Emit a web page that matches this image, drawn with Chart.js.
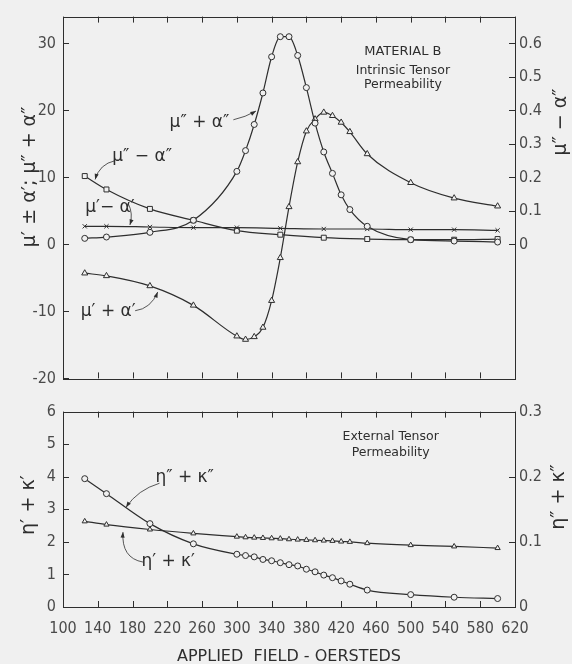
<!DOCTYPE html>
<html>
<head>
<meta charset="utf-8">
<script src="https://cdn.jsdelivr.net/npm/chart.js@4.4.0/dist/chart.umd.min.js"></script>
<style>
  html, body { margin: 0; padding: 0; background: #f0f0f0; }
  #wrap { position: relative; width: 572px; height: 664px; }
  #topChart { position: absolute; left: 0; top: 0; }
  #bottomChart { position: absolute; left: 0; top: 395px; }
</style>
</head>
<body>
<div id="wrap">
  <canvas id="topChart" width="572" height="395"></canvas>
  <canvas id="bottomChart" width="572" height="269"></canvas>
</div>
<script>
// applied field (oersteds)
const fieldFine = [125, 150, 200, 250, 300, 310, 320, 330, 340, 350, 360, 370, 380, 390, 400, 410, 420, 430, 450, 500, 550, 600];
const fieldCoarse = [125, 150, 200, 250, 300, 350, 400, 450, 500, 550, 600];

// intrinsic tensor permeability
const muImPlus = [0.9, 1.1, 1.8, 3.6, 10.9, 14.0, 17.9, 22.6, 28.0, 31.0, 31.0, 28.2, 23.4, 18.1, 13.8, 10.6, 7.4, 5.2, 2.7, 0.7, 0.5, 0.35];
const muRePlus = [-4.3, -4.7, -6.2, -9.1, -13.7, -14.2, -13.8, -12.4, -8.4, -2.0, 5.6, 12.3, 16.9, 18.7, 19.7, 19.2, 18.2, 16.8, 13.5, 9.2, 6.9, 5.7];
const muReMinus = [2.7, 2.7, 2.6, 2.5, 2.5, 2.4, 2.3, 2.3, 2.2, 2.2, 2.1];
const muImMinus = [0.204, 0.164, 0.106, 0.072, 0.041, 0.029, 0.020, 0.016, 0.014, 0.014, 0.016];

// external tensor permeability
const etaRe = [2.63, 2.53, 2.38, 2.26, 2.16, 2.14, 2.13, 2.12, 2.11, 2.10, 2.08, 2.07, 2.06, 2.05, 2.04, 2.03, 2.01, 2.00, 1.96, 1.90, 1.86, 1.81];
const etaIm = [0.197, 0.174, 0.128, 0.097, 0.081, 0.079, 0.077, 0.073, 0.071, 0.068, 0.065, 0.063, 0.058, 0.054, 0.049, 0.045, 0.040, 0.035, 0.026, 0.019, 0.015, 0.013];

// tick labels
const xTicks = [100, 140, 180, 220, 260, 300, 340, 380, 420, 460, 500, 540, 580, 620];
const topLeftTicks = [-20, -10, 0, 10, 20, 30];
const topRightTicks = [0, 0.1, 0.2, 0.3, 0.4, 0.5, 0.6];
const bottomLeftTicks = [0, 1, 2, 3, 4, 5, 6];
const bottomRightTicks = [0, 0.1, 0.2, 0.3];

const INK = '#2e2e2e';
const PAPER = '#f0f0f0';
const tickFont = { family: "'Liberation Sans Narrow', 'DejaVu Sans Condensed', sans-serif", size: 16 };

const series = (xs, ys, shape, axis, radius) => ({
    data: xs.map((x, i) => ({ x: x, y: ys[i] })),
    yAxisID: axis,
    borderColor: INK,
    borderWidth: 1.2,
    pointStyle: shape,
    pointRadius: radius,
    pointBorderWidth: 1,
    pointBorderColor: INK,
    pointBackgroundColor: PAPER,
    cubicInterpolationMode: 'monotone',
    fill: false
});

const fixTicks = list => s => { s.ticks = list.map(v => ({ value: v })); };

// frame, inward ticks, in-plot labels and axis titles
const decor = {
    id: 'decor',
    afterDraw(chart, args, o) {
        const { ctx, chartArea: a, scales } = chart;
        const line = (x1, y1, x2, y2) => { ctx.beginPath(); ctx.moveTo(x1, y1); ctx.lineTo(x2, y2); ctx.stroke(); };
        ctx.save();
        ctx.strokeStyle = INK;
        ctx.lineWidth = 1;
        ctx.strokeRect(Math.round(a.left) + 0.5, Math.round(a.top) + 0.5, Math.round(a.width), Math.round(a.height));

        xTicks.forEach(v => {
            const px = Math.round(scales.x.getPixelForValue(v)) + 0.5;
            line(px, a.bottom, px, a.bottom - 6);
            line(px, a.top, px, a.top + 6);
        });
        o.leftTicks.forEach(v => {
            const py = Math.round(scales.yL.getPixelForValue(v)) + 0.5;
            line(a.left, py, a.left + 6, py);
        });
        o.rightTicks.forEach(v => {
            const py = Math.round(scales.yR.getPixelForValue(v)) + 0.5;
            line(a.right, py, a.right - 6, py);
        });

        ctx.fillStyle = INK;
        ctx.textAlign = 'center';
        ctx.textBaseline = 'middle';
        o.texts.forEach(t => {
            ctx.font = t.font || "17px 'DejaVu Sans'";
            ctx.fillText(t.t, scales.x.getPixelForValue(t.x), scales.yL.getPixelForValue(t.y));
        });

        ctx.lineWidth = 0.8;
        o.leaders.forEach(l => {
            const p = xy => [scales.x.getPixelForValue(xy[0]), scales.yL.getPixelForValue(xy[1])];
            const f = p(l.from), c = p(l.ctrl), e = p(l.to);
            ctx.beginPath();
            ctx.moveTo(f[0], f[1]);
            ctx.quadraticCurveTo(c[0], c[1], e[0], e[1]);
            ctx.stroke();
            const ang = Math.atan2(e[1] - c[1], e[0] - c[0]);
            ctx.beginPath();
            ctx.moveTo(e[0], e[1]);
            ctx.lineTo(e[0] - 6 * Math.cos(ang - 0.35), e[1] - 6 * Math.sin(ang - 0.35));
            ctx.lineTo(e[0] - 6 * Math.cos(ang + 0.35), e[1] - 6 * Math.sin(ang + 0.35));
            ctx.closePath();
            ctx.fill();
        });

        o.titles.forEach(t => {
            ctx.save();
            ctx.translate(t.cx, t.cy);
            if (t.rot) ctx.rotate(-Math.PI / 2);
            ctx.font = t.font || "19px 'DejaVu Sans'";
            ctx.fillText(t.t, 0, 0);
            ctx.restore();
        });
        ctx.restore();
    }
};

const baseScales = (xHeight, showX, leftTicks, leftMin, leftMax, rightTicks, rightMin, rightMax, rightFmt) => ({
    x: {
        type: 'linear', min: 100, max: 620,
        grid: { display: false }, border: { display: false },
        afterBuildTicks: fixTicks(xTicks),
        ticks: { display: showX, font: tickFont, color: '#4a4a4a', padding: 4, maxRotation: 0, autoSkip: false },
        afterFit: s => { s.height = xHeight; }
    },
    yL: {
        position: 'left', min: leftMin, max: leftMax,
        grid: { display: false, drawTicks: false }, border: { display: false },
        afterBuildTicks: fixTicks(leftTicks),
        ticks: { font: tickFont, color: '#4a4a4a', padding: 7 },
        afterFit: s => { s.width = 63; }
    },
    yR: {
        position: 'right', min: rightMin, max: rightMax,
        grid: { display: false, drawTicks: false }, border: { display: false },
        afterBuildTicks: fixTicks(rightTicks),
        ticks: { font: tickFont, color: '#4a4a4a', padding: 4, callback: rightFmt },
        afterFit: s => { s.width = 57; }
    }
});

const decimal = v => (v === 0 ? '0' : v.toFixed(1));

new Chart(document.getElementById('topChart'), {
    type: 'line',
    data: {
        datasets: [
            series(fieldFine, muImPlus, 'circle', 'yL', 3),
            series(fieldFine, muRePlus, 'triangle', 'yL', 3.5),
            series(fieldCoarse, muReMinus, 'crossRot', 'yL', 3),
            series(fieldCoarse, muImMinus, 'rect', 'yR', 3.5)
        ]
    },
    options: {
        responsive: false,
        animation: false,
        layout: { padding: { top: 12, left: 0, right: 0, bottom: 0 } },
        scales: baseScales(13, false, topLeftTicks, -20, 34, topRightTicks, -0.4, 0.68, decimal),
        plugins: {
            legend: { display: false },
            tooltip: { enabled: false },
            decor: {
                leftTicks: topLeftTicks,
                rightTicks: topRightTicks,
                texts: [
                    { t: 'μ″ + α″', x: 257, y: 18.2 },
                    { t: 'μ″ − α″', x: 191, y: 13.1 },
                    { t: 'μ′− α′', x: 154, y: 5.5 },
                    { t: 'μ′ + α′', x: 152, y: -10 },
                    { t: 'MATERIAL B', x: 491, y: 28.7, font: "13px 'DejaVu Sans'" },
                    { t: 'Intrinsic Tensor', x: 491, y: 25.9, font: "12.5px 'DejaVu Sans'" },
                    { t: 'Permeability', x: 491, y: 23.9, font: "12.5px 'DejaVu Sans'" }
                ],
                leaders: [
                    { from: [296, 18.6], ctrl: [310, 19.0], to: [322, 19.9] },
                    { from: [160, 12.5], ctrl: [142, 12.0], to: [137, 9.7] },
                    { from: [175, 6.1], ctrl: [181, 4.6], to: [177, 2.9] },
                    { from: [183, -9.9], ctrl: [201, -9.6], to: [209, -7.1] }
                ],
                titles: [
                    { t: 'μ′ ± α′; μ″ + α″', cx: 30, cy: 177, rot: true },
                    { t: 'μ″ − α″', cx: 561, cy: 122, rot: true }
                ]
            }
        }
    },
    plugins: [decor]
});

new Chart(document.getElementById('bottomChart'), {
    type: 'line',
    data: {
        datasets: [
            series(fieldFine, etaRe, 'triangle', 'yL', 3),
            series(fieldFine, etaIm, 'circle', 'yR', 3)
        ]
    },
    options: {
        responsive: false,
        animation: false,
        layout: { padding: { top: 8, left: 0, right: 0, bottom: 0 } },
        scales: baseScales(57, true, bottomLeftTicks, 0, 6, bottomRightTicks, 0, 0.3, decimal),
        plugins: {
            legend: { display: false },
            tooltip: { enabled: false },
            decor: {
                leftTicks: bottomLeftTicks,
                rightTicks: bottomRightTicks,
                texts: [
                    { t: 'External Tensor', x: 477, y: 5.24, font: "12.5px 'DejaVu Sans'" },
                    { t: 'Permeability', x: 477, y: 4.74, font: "12.5px 'DejaVu Sans'" },
                    { t: 'η″ + κ″', x: 240, y: 3.97 },
                    { t: 'η′ + κ′', x: 221, y: 1.38 }
                ],
                leaders: [
                    { from: [211, 3.8], ctrl: [186, 3.6], to: [172.5, 3.06] },
                    { from: [192, 1.38], ctrl: [167, 1.5], to: [169, 2.3] }
                ],
                titles: [
                    { t: 'η′ + κ′', cx: 29, cy: 110, rot: true },
                    { t: 'η″ + κ″', cx: 559, cy: 102, rot: true },
                    { t: 'APPLIED  FIELD - OERSTEDS', cx: 289, cy: 262, rot: false, font: "16px 'DejaVu Sans'" }
                ]
            }
        }
    },
    plugins: [decor]
});
</script>
</body>
</html>
